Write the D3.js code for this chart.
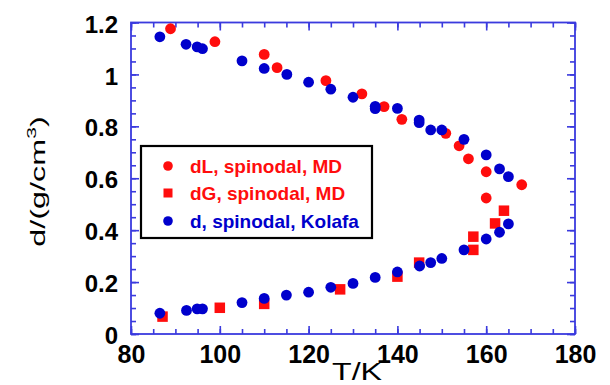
<!DOCTYPE html>
<html>
<head>
<meta charset="utf-8">
<script src="https://cdn.jsdelivr.net/npm/d3@7"></script>
<style>
  html, body { margin: 0; padding: 0; background: #fff; }
  svg { display: block; }
</style>
</head>
<body>
<svg id="chart" width="610" height="385"></svg>
<script>
// Spinodal densities: liquid branch (MD), gas branch (MD), and the Kolafa curve
const dLSpinodalMD = [
  [88.9, 1.176], [98.9, 1.126], [110.0, 1.077], [112.9, 1.026], [123.9, 0.976],
  [132.0, 0.925], [137.0, 0.876], [141.0, 0.827], [150.9, 0.773], [153.9, 0.725],
  [156.0, 0.675], [160.0, 0.625], [168.0, 0.575], [160.0, 0.524]
];
const dGSpinodalMD = [
  [87.1, 0.067], [100.0, 0.101], [110.0, 0.116], [127.1, 0.172], [140.0, 0.221],
  [144.9, 0.275], [157.1, 0.324], [157.1, 0.375], [162.0, 0.426], [164.0, 0.475]
];
const dSpinodalKolafa = [
  [86.5, 1.145], [92.4, 1.116], [94.9, 1.106], [96.1, 1.099], [105.0, 1.052],
  [110.0, 1.023], [115.1, 1.000], [120.0, 0.970], [125.0, 0.943], [130.0, 0.912],
  [135.0, 0.877], [135.0, 0.868], [140.0, 0.869], [144.9, 0.824], [144.9, 0.814],
  [147.5, 0.786], [150.0, 0.786], [155.0, 0.750], [160.0, 0.690], [163.0, 0.636],
  [165.0, 0.606],
  [165.0, 0.424], [163.0, 0.392], [160.0, 0.366], [155.0, 0.324], [150.0, 0.291],
  [147.5, 0.275], [145.0, 0.262], [140.0, 0.239], [135.0, 0.218], [130.0, 0.195],
  [125.0, 0.180], [120.0, 0.161], [115.0, 0.150], [110.0, 0.137], [105.0, 0.121],
  [96.1, 0.097], [94.9, 0.097], [92.5, 0.091], [86.5, 0.080]
];

const xTickValues = [80, 100, 120, 140, 160, 180];
const xTickLabels = ["80", "100", "120", "140", "160", "180"];
const yTickValues = [0, 0.2, 0.4, 0.6, 0.8, 1.0, 1.2];
const yTickLabels = ["0", "0.2", "0.4", "0.6", "0.8", "1", "1.2"];

const legendLabels = ["dL, spinodal, MD", "dG, spinodal, MD", "d, spinodal, Kolafa"];

const RED = "#ff0d0d";
const BLUE = "#0000cc";
const AXIS = "#3a3ade";

const svg = d3.select("#chart");
const plot = { left: 131, right: 575, top: 22.5, bottom: 334 };

const x = d3.scaleLinear().domain([80, 180]).range([plot.left, plot.right]);
const y = d3.scaleLinear().domain([0, 1.2]).range([plot.bottom, plot.top]);

const xMinor = d3.range(80, 180.1, 5);
const yMinor = d3.range(0, 1.2001, 0.05);

const labelFont = "'Liberation Sans', Arial, sans-serif";

function styleAxis(g) {
  g.select(".domain").remove();
  g.selectAll(".tick line").attr("stroke", AXIS).attr("stroke-width", 1.6);
}

// minor ticks on all four sides, pointing inwards
svg.append("g").attr("transform", `translate(0,${plot.bottom})`)
  .call(d3.axisBottom(x).tickValues(xMinor).tickSize(-5).tickFormat(""))
  .call(styleAxis);
svg.append("g").attr("transform", `translate(0,${plot.top})`)
  .call(d3.axisTop(x).tickValues(xMinor).tickSize(-5).tickFormat(""))
  .call(styleAxis);
svg.append("g").attr("transform", `translate(${plot.left},0)`)
  .call(d3.axisLeft(y).tickValues(yMinor).tickSize(-5).tickFormat(""))
  .call(styleAxis);
svg.append("g").attr("transform", `translate(${plot.right},0)`)
  .call(d3.axisRight(y).tickValues(yMinor).tickSize(-5).tickFormat(""))
  .call(styleAxis);

// major ticks with labels
const xAxis = svg.append("g").attr("transform", `translate(0,${plot.bottom})`)
  .call(d3.axisBottom(x).tickValues(xTickValues).tickSize(-8).tickPadding(11)
    .tickFormat((d, i) => xTickLabels[i]))
  .call(styleAxis);
xAxis.selectAll("text")
  .attr("fill", "#000").attr("font-family", labelFont)
  .attr("font-weight", "bold").attr("font-size", 25);

const yAxis = svg.append("g").attr("transform", `translate(${plot.left},0)`)
  .call(d3.axisLeft(y).tickValues(yTickValues).tickSize(-8).tickPadding(13)
    .tickFormat((d, i) => yTickLabels[i]))
  .call(styleAxis);
yAxis.selectAll("text")
  .attr("fill", "#000").attr("font-family", labelFont)
  .attr("font-weight", "bold").attr("font-size", 24).attr("dy", "0.4em");

svg.append("g").attr("transform", `translate(0,${plot.top})`)
  .call(d3.axisTop(x).tickValues(xTickValues).tickSize(-8).tickFormat(""))
  .call(styleAxis);
svg.append("g").attr("transform", `translate(${plot.right},0)`)
  .call(d3.axisRight(y).tickValues(yTickValues).tickSize(-8).tickFormat(""))
  .call(styleAxis);

// plot frame
svg.append("rect")
  .attr("x", plot.left).attr("y", plot.top)
  .attr("width", plot.right - plot.left).attr("height", plot.bottom - plot.top)
  .attr("fill", "none").attr("stroke", AXIS).attr("stroke-width", 1.8);

// data markers
const R = 5.4, S = 10.5;
svg.append("g").selectAll("circle").data(dLSpinodalMD).join("circle")
  .attr("cx", d => x(d[0])).attr("cy", d => y(d[1])).attr("r", R).attr("fill", RED);
svg.append("g").selectAll("rect").data(dGSpinodalMD).join("rect")
  .attr("x", d => x(d[0]) - S / 2).attr("y", d => y(d[1]) - S / 2)
  .attr("width", S).attr("height", S).attr("fill", RED);
svg.append("g").selectAll("circle").data(dSpinodalKolafa).join("circle")
  .attr("cx", d => x(d[0])).attr("cy", d => y(d[1])).attr("r", R).attr("fill", BLUE);

// axis titles
svg.append("text")
  .attr("transform", "translate(357,380) scale(1.34,1)")
  .attr("text-anchor", "middle")
  .attr("font-family", labelFont).attr("font-size", 24).attr("fill", "#000")
  .text("T/K");

const yTitle = svg.append("text")
  .attr("transform", "translate(45,181.5) rotate(-90) scale(1.62,1)")
  .attr("text-anchor", "middle")
  .attr("font-family", labelFont).attr("font-size", 20).attr("fill", "#000");
yTitle.append("tspan").text("d/(g/cm");
yTitle.append("tspan").attr("font-size", 13).attr("dy", -9).text("3");
yTitle.append("tspan").attr("dy", 9).text(")");

// legend
const legend = svg.append("g");
legend.append("rect")
  .attr("x", 141).attr("y", 146).attr("width", 231).attr("height", 92)
  .attr("fill", "#fff").attr("stroke", "#000").attr("stroke-width", 2.2);
const rows = [166, 193, 221];
const colors = [RED, RED, BLUE];
legend.append("circle").attr("cx", 168).attr("cy", rows[0]).attr("r", 4.8).attr("fill", RED);
legend.append("rect").attr("x", 168 - 4.5).attr("y", rows[1] - 4.5)
  .attr("width", 9).attr("height", 9).attr("fill", RED);
legend.append("circle").attr("cx", 168).attr("cy", rows[2]).attr("r", 4.8).attr("fill", BLUE);
legend.selectAll("text").data(legendLabels).join("text")
  .attr("x", 190).attr("y", (d, i) => rows[i] + 6.5)
  .attr("font-family", labelFont).attr("font-weight", "bold").attr("font-size", 19)
  .attr("fill", (d, i) => colors[i])
  .text(d => d);
</script>
</body>
</html>
